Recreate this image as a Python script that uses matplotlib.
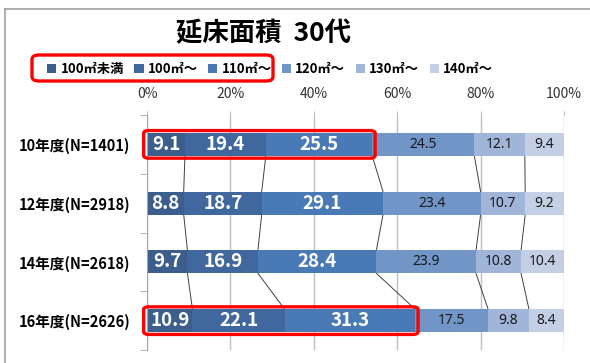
import matplotlib
matplotlib.use("Agg")
import matplotlib.pyplot as plt
import numpy as np
from matplotlib.patches import FancyBboxPatch
from matplotlib.lines import Line2D

plt.rcParams['font.family'] = ['Noto Sans CJK JP', 'DejaVu Sans']

categories = ["10年度(N=1401)", "12年度(N=2918)", "14年度(N=2618)", "16年度(N=2626)"]
series_names = ["100㎡未満", "100㎡〜", "110㎡〜", "120㎡〜", "130㎡〜", "140㎡〜"]
values = [
    [9.1, 8.8, 9.7, 10.9],
    [19.4, 18.7, 16.9, 22.1],
    [25.5, 29.1, 28.4, 31.3],
    [24.5, 23.4, 23.9, 17.5],
    [12.1, 10.7, 10.8, 9.8],
    [9.4, 9.2, 10.4, 8.4],
]
xticks = [0, 20, 40, 60, 80, 100]
xticklabels = ["0%", "20%", "40%", "60%", "80%", "100%"]
title = "延床面積  30代"

colors = ["#3B5E8C", "#41689E", "#4A7AB5", "#7195C6", "#A0B5D8", "#C4CFE5"]

W, H = 590, 363
fig = plt.figure(figsize=(W / 100, H / 100), dpi=100)
ax = fig.add_axes([147 / W, 1 - 350 / H, (564 - 147) / W, (350 - 115) / H])

vals = np.array(values)
n = len(categories)
y = np.arange(n)
bh = 0.39
left = np.zeros(n)
for i, (name, v) in enumerate(zip(series_names, vals)):
    ax.barh(y, v, left=left, height=bh, color=colors[i], label=name, zorder=3)
    for j in range(n):
        cx = left[j] + v[j] / 2
        if i < 3:
            ax.text(cx, y[j], f"{v[j]:.1f}", ha="center", va="center", color="white",
                    fontsize=13.5, fontweight="bold", zorder=5)
        else:
            ax.text(cx, y[j], f"{v[j]:.1f}", ha="center", va="center", color="#1a1a1a",
                    fontsize=10, zorder=5, family=['Noto Sans', 'DejaVu Sans'])
    left = left + v

# series lines
cum = np.cumsum(vals, axis=0)
for k in range(len(series_names) - 1):
    for j in range(n - 1):
        ax.plot([cum[k, j], cum[k, j + 1]], [y[j] + bh / 2, y[j + 1] - bh / 2],
                color="#404040", lw=0.7, zorder=2)

ax.set_xlim(0, 100)
ax.set_ylim(n - 0.5, -0.5)
ax.set_xticks(xticks)
ax.set_xticklabels(xticklabels, fontsize=10, color="#333333")
ax.xaxis.tick_top()
ax.tick_params(axis="x", length=3, color="#BFBFBF", pad=7)
ax.set_yticks(y)
ax.set_yticklabels(categories, fontsize=10.5, fontweight="bold")
ax.tick_params(axis="y", length=0, pad=12)
ax.set_yticks(np.arange(n + 1) - 0.5, minor=True)
ax.tick_params(axis="y", which="minor", length=5, color="#A6A6A6", direction="out")
ax.grid(axis="x", color="#BFBFBF", lw=1, zorder=0)
for s in ["top", "right", "bottom"]:
    ax.spines[s].set_visible(False)
ax.spines["left"].set_color("#A6A6A6")
ax.spines["left"].set_zorder(4)

# red highlight boxes on bars
for j in [0, n - 1]:
    x1 = cum[2, j]
    box = FancyBboxPatch((-0.8, y[j] - 0.235), x1 + 1.5, 0.47,
                         boxstyle="round,pad=0,rounding_size=1.2",
                         mutation_aspect=0.04,
                         fill=False, ec="#FF0000", lw=2.4, zorder=6, clip_on=False)
    ax.add_patch(box)

fig.text(264 / W, 1 - 34 / H, title, ha="center", va="center", fontsize=19, fontweight="bold")

handles, labels = ax.get_legend_handles_labels()
leg = fig.legend(handles, labels, loc="center", bbox_to_anchor=(270 / W, 1 - 69 / H),
                 ncol=6, frameon=False, handlelength=0.7, handleheight=0.7,
                 handletextpad=0.3, columnspacing=0.8, prop={"size": 9.5, "weight": "bold"})

# red box around legend first three
fig.patches.append(FancyBboxPatch((32 / W, 1 - 81 / H), (273 - 32) / W, 26 / H,
                                  boxstyle="round,pad=0,rounding_size=0.012",
                                  transform=fig.transFigure, fill=False, ec="#FF0000", lw=2.4))

# outer chart frame
fig.add_artist(Line2D([5 / W, 5 / W], [0, 1 - 9 / H], transform=fig.transFigure, color="#A0A0A0", lw=1.2))
fig.add_artist(Line2D([5 / W, 1], [1 - 9 / H, 1 - 9 / H], transform=fig.transFigure, color="#A0A0A0", lw=1.2))

fig.savefig("out.png", dpi=100)
